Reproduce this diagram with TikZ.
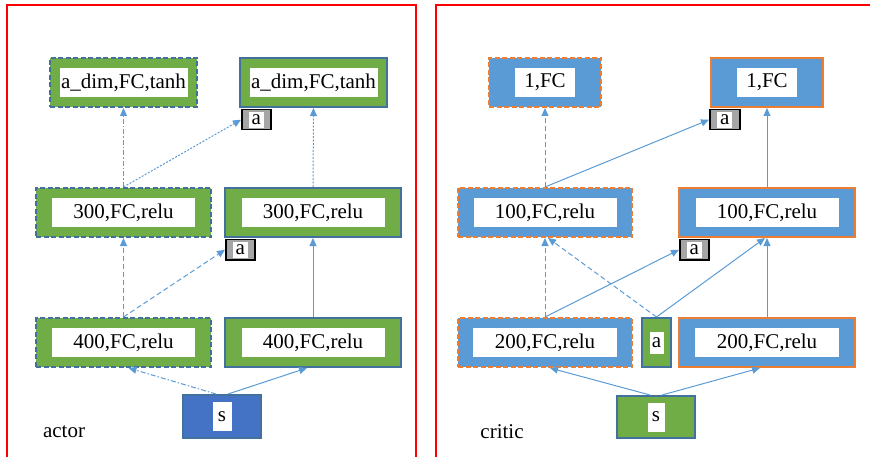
\documentclass[tikz,border=0pt]{standalone}
\usepackage{fontspec}
\setmainfont{Liberation Serif}
\usetikzlibrary{arrows.meta,positioning}
\definecolor{actgreen}{HTML}{70AD47}
\definecolor{actline}{HTML}{41719C}
\definecolor{actsblue}{HTML}{4472C4}
\definecolor{critblue}{HTML}{5B9BD5}
\definecolor{critorange}{HTML}{ED7D31}
\definecolor{linkblue}{HTML}{5B9BD5}
\definecolor{agray}{HTML}{A5A5A5}

\begin{document}
\begin{tikzpicture}[x=1pt, y=-1pt,
    panel/.style={draw=red, line width=1.5pt},
    net/.style={rectangle, line width=2pt, minimum width=175pt, minimum height=49pt, inner sep=0pt},
    actnet/.style={net, draw=actline, fill=actgreen},
    critnet/.style={net, draw=critorange, fill=critblue},
    target/.style={dash pattern=on 5pt off 2.5pt},
    txt/.style={fill=white, inner sep=1pt, minimum height=29pt, font=\fontsize{21}{24}\selectfont},
    abox/.style={rectangle, draw=black, fill=agray, line width=1.5pt, minimum width=29pt, minimum height=20pt, inner sep=0pt,
        label={[txt, minimum height=16pt, inner xsep=3pt]center:a}},
    link/.style={draw=linkblue, line width=1pt, -{Triangle[width=7pt,length=8pt]}},
    dashlink/.style={link, dash pattern=on 5pt off 3pt},
    dotlink/.style={link, dash pattern=on 2pt off 1.5pt},
    dashdotlink/.style={link, dash pattern=on 5pt off 2pt on 1.5pt off 2pt},
    caption/.style={font=\fontsize{21}{24}\selectfont}
]
\useasboundingbox (0,0) rectangle (870,457);

% Frames
\draw[panel] (7,5) rectangle (416,470);
\draw[panel] (436,5) rectangle (885,470);

% Actor: target net (left) and online net (right)
\node[actnet, target, minimum width=147pt, label={[txt, minimum width=128pt]center:a\_dim,FC,tanh}] (aouttgt) at (123.5,82.5) {};
\node[actnet, minimum width=147pt, label={[txt, minimum width=128pt]center:a\_dim,FC,tanh}] (aout) at (313.5,82.5) {};
\node[abox, below right=1pt and 2pt of aout.south west] (aouta) {};
\node[actnet, target, label={[txt, minimum width=143pt]center:300,FC,relu}] (a300tgt) at (123.5,212.5) {};
\node[actnet, minimum width=176pt, label={[txt, minimum width=143pt]center:300,FC,relu}] (a300) at (313,212.5) {};
\node[abox, below right=1pt and 1pt of a300.south west] (a300a) {};
\node[actnet, target, label={[txt, minimum width=143pt]center:400,FC,relu}] (a400tgt) at (123.5,342.5) {};
\node[actnet, minimum width=176pt, label={[txt, minimum width=143pt]center:400,FC,relu}] (a400) at (313,342.5) {};
\node[net, draw=actline, fill=actsblue, minimum width=78pt, minimum height=43pt, label={[txt, minimum width=19pt]center:s}] (as) at (222,416.5) {};
\node[caption] (actorlbl) at (64,432) {actor};

% Critic: target net (left) and online net (right)
\node[critnet, target, minimum width=112pt, label={[txt, minimum width=60pt]center:1,FC}] (c1tgt) at (545,82.5) {};
\node[critnet, minimum width=112pt, label={[txt, minimum width=60pt]center:1,FC}] (c1) at (767,82.5) {};
\node[abox, minimum width=30pt, below right=1pt and -1pt of c1.south west] (c1a) {};
\node[critnet, target, minimum width=174pt, label={[txt, minimum width=143pt]center:100,FC,relu}] (c100tgt) at (545,212.5) {};
\node[critnet, minimum width=176pt, label={[txt, minimum width=143pt]center:100,FC,relu}] (c100) at (767,212.5) {};
\node[abox, below right=1pt and 1pt of c100.south west] (c100a) {};
\node[critnet, target, minimum width=174pt, label={[txt, minimum width=144pt]center:200,FC,relu}] (c200tgt) at (545,342.5) {};
\node[critnet, minimum width=176pt, label={[txt, minimum width=144pt]center:200,FC,relu}] (c200) at (767,342.5) {};
\node[actnet, minimum width=29pt, label={[txt, minimum width=14pt, minimum height=22pt]center:a}] (ca) at (656.5,342.5) {};
\node[actnet, minimum width=78pt, minimum height=42pt, label={[txt, minimum width=17pt]center:s}] (cs) at (656,417) {};
\node[caption] (criticlbl) at (502,432) {critic};

% Actor links
\draw[dashlink] (a400tgt.north) -- (a300tgt.south);
\draw[dashlink] (a400tgt.north) -- (a300a.west);
\draw[link] (a400.north) -- (a300.south);
\draw[dashdotlink] (a300tgt.north) -- (aouttgt.south);
\draw[dotlink] (a300tgt.north) -- (aouta.west);
\draw[dotlink] (a300.north) -- (aout.south);
\draw[dashdotlink] ([xshift=-6pt]as.north) -- ([xshift=5pt]a400tgt.south);
\draw[link] ([xshift=6pt]as.north) -- ([xshift=-6pt]a400.south);

% Critic links
\draw[dashlink] (c200tgt.north) -- (c100tgt.south);
\draw[link] (c200tgt.north) -- (c100a.west);
\draw[dashlink] (ca.north) -- ([xshift=3pt]c100tgt.south);
\draw[link] (ca.north) -- ([xshift=-2pt]c100.south);
\draw[link] (c200.north) -- (c100.south);
\draw[dashlink] (c100tgt.north) -- (c1tgt.south);
\draw[link] (c100tgt.north) -- (c1a.west);
\draw[link] (c100.north) -- (c1.south);
\draw[link] ([xshift=-6pt]cs.north) -- ([xshift=5pt]c200tgt.south);
\draw[link] ([xshift=6pt]cs.north) -- ([xshift=-7pt]c200.south);
\end{tikzpicture}
\end{document}
